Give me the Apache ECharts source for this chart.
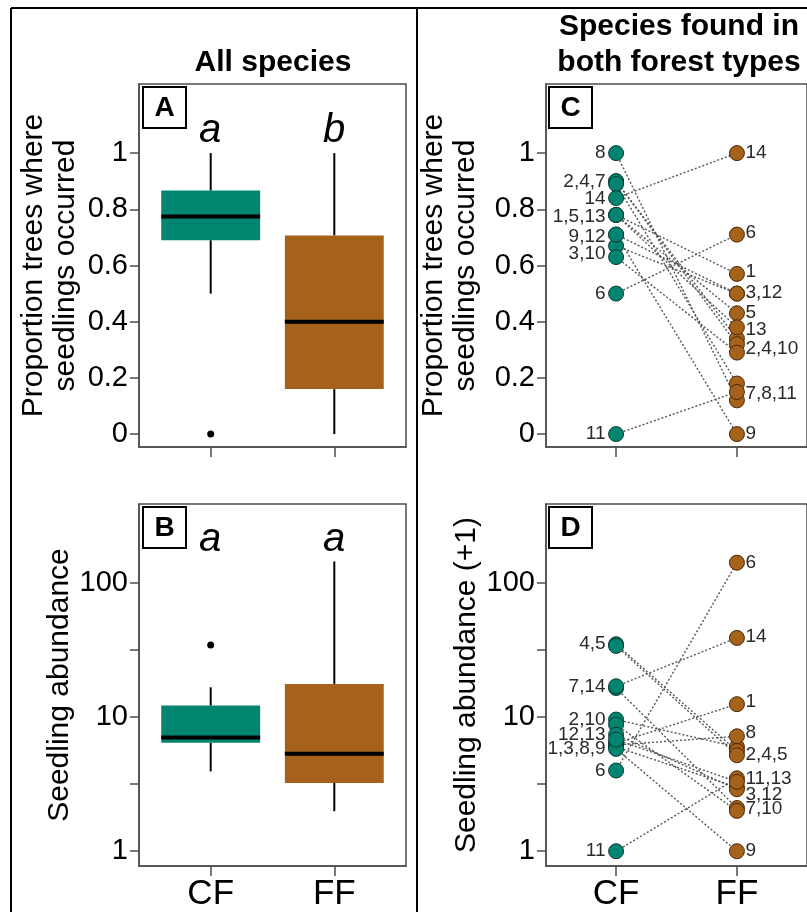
<!DOCTYPE html>
<html>
<head>
<meta charset="utf-8">
<script src="https://cdn.jsdelivr.net/npm/echarts@6/dist/echarts.min.js"></script>
<style>
  html, body { margin: 0; padding: 0; background: #fff; }
  #chart { width: 807px; height: 912px; }
</style>
</head>
<body>
<div id="chart"></div>
<script>
// ---- data ----
const groups = ['CF', 'FF'];
const propTicks = [0, 0.2, 0.4, 0.6, 0.8, 1];
const abundTicks = [1, 3.1623, 10, 31.623, 100];
const abundLabels = [1, 10, 100];

// All species: box statistics [lower whisker, Q1, median, Q3, upper whisker]
const propBoxCF = [0.5, 0.69, 0.774, 0.867, 1.0];
const propBoxFF = [0, 0.16, 0.40, 0.707, 1.0];
const propOutCF = [0];
const propOutFF = [];
const abundBoxCF = [3.94, 6.44, 7.06, 12.2, 16.7];
const abundBoxFF = [1.99, 3.23, 5.33, 17.7, 145];
const abundOutCF = [34.5];
const abundOutFF = [];

// Species found in both forest types (species 1..14)
const speciesIds = [1, 2, 3, 4, 5, 6, 7, 8, 9, 10, 11, 12, 13, 14];
const propCF = [0.78, 0.90, 0.67, 0.90, 0.78, 0.50, 0.89, 1.00, 0.71, 0.63, 0.00, 0.71, 0.78, 0.84];
const propFF = [0.57, 0.34, 0.50, 0.32, 0.43, 0.71, 0.18, 0.12, 0.00, 0.29, 0.15, 0.50, 0.38, 1.00];
const abundCF = [6.4, 9.6, 6.0, 35, 34, 4.0, 16.5, 6.2, 5.8, 8.8, 1.0, 7.4, 6.8, 17];
const abundFF = [12.5, 6.0, 3.0, 5.6, 5.2, 142, 2.1, 7.2, 1.0, 2.0, 3.5, 2.9, 3.3, 39];

// species labels beside the points: [text, value]
const propLabCF = [['8', 1.0], ['2,4,7', 0.898], ['14', 0.836], ['1,5,13', 0.773], ['9,12', 0.704], ['3,10', 0.642], ['6', 0.5], ['11', 0]];
const propLabFF = [['14', 1.0], ['6', 0.717], ['1', 0.576], ['3,12', 0.504], ['5', 0.43], ['13', 0.37], ['2,4,10', 0.304], ['7,8,11', 0.143], ['9', 0]];
const abundLabCF = [['4,5', 35], ['7,14', 16.8], ['2,10', 9.6], ['12,13', 7.4], ['1,3,8,9', 5.8], ['6', 4.0], ['11', 1]];
const abundLabFF = [['6', 142], ['14', 39.5], ['1', 13], ['8', 7.6], ['2,4,5', 5.2], ['11,13', 3.45], ['3,12', 2.64], ['7,10', 2.07], ['9', 1]];

// ---- styling ----
const FONT = "'Liberation Sans', Arial, sans-serif";
const GREEN = '#018571';
const BROWN = '#A6611A';
const FRAME = '#4d4d4d';
const boxColors = [GREEN, BROWN];

const grids = [
  { left: 139, top: 84, width: 267, height: 363 },   // A
  { left: 139, top: 504, width: 267, height: 363 },  // B
  { left: 546, top: 84, width: 267, height: 363 },   // C
  { left: 546, top: 504, width: 267, height: 363 }   // D
].map(g => Object.assign(g, { show: true, borderColor: FRAME, borderWidth: 1.5, backgroundColor: 'transparent' }));

function xAxisFor(gi, showLabels) {
  return {
    gridIndex: gi, type: 'value', min: 0.42, max: 2.58,
    axisLine: { show: true, onZero: false, lineStyle: { color: FRAME, width: 1.5 } },
    splitLine: { show: false },
    axisTick: { show: true, customValues: [1, 2], length: 10, lineStyle: { color: FRAME, width: 1.5 } },
    axisLabel: {
      show: showLabels, customValues: [1, 2], margin: 11,
      formatter: v => groups[Math.round(v) - 1],
      fontSize: 35, color: '#000', fontFamily: FONT
    }
  };
}

function propAxis(gi, gap) {
  return {
    gridIndex: gi, type: 'value', min: -0.046, max: 1.246,
    axisLine: { show: true, onZero: false, lineStyle: { color: FRAME, width: 1.5 } },
    splitLine: { show: false },
    axisTick: { show: true, customValues: propTicks, length: 9, lineStyle: { color: FRAME, width: 1.5 } },
    axisLabel: {
      customValues: propTicks, margin: 11,
      formatter: v => String(+(+v).toFixed(1)),
      fontSize: 29, color: '#000', fontFamily: FONT
    },
    name: 'Proportion trees where\nseedlings occurred',
    nameLocation: 'middle', nameRotate: 90, nameGap: gap,
    nameTextStyle: { fontSize: 30, lineHeight: 32, color: '#000', fontFamily: FONT }
  };
}

function abundAxis(gi, gap, name) {
  return {
    gridIndex: gi, type: 'log', logBase: 10, min: 0.776, max: 389,
    axisLine: { show: true, onZero: false, lineStyle: { color: FRAME, width: 1.5 } },
    splitLine: { show: false },
    axisTick: { show: true, customValues: abundTicks, length: 9, lineStyle: { color: FRAME, width: 1.5 } },
    axisLabel: {
      customValues: abundLabels, margin: 11,
      formatter: v => String(Math.round(v)),
      fontSize: 29, color: '#000', fontFamily: FONT
    },
    name: name, nameLocation: 'middle', nameRotate: 90, nameGap: gap,
    nameTextStyle: { fontSize: 30, lineHeight: 32, color: '#000', fontFamily: FONT }
  };
}

// box with whiskers, drawn from [x, lo, q1, median, q3, hi]
function renderBox(params, api) {
  const x = api.value(0);
  const lo = api.value(1), q1 = api.value(2), md = api.value(3), q3 = api.value(4), hi = api.value(5);
  const tl = api.coord([x - 0.4, q3]);
  const br = api.coord([x + 0.4, q1]);
  const cx = api.coord([x, md])[0];
  const yMd = api.coord([x, md])[1];
  const yLo = api.coord([x, lo])[1];
  const yHi = api.coord([x, hi])[1];
  return {
    type: 'group',
    children: [
      { type: 'line', shape: { x1: cx, y1: yHi, x2: cx, y2: tl[1] }, style: { stroke: '#000', lineWidth: 2 } },
      { type: 'line', shape: { x1: cx, y1: br[1], x2: cx, y2: yLo }, style: { stroke: '#000', lineWidth: 2 } },
      { type: 'rect', shape: { x: tl[0], y: tl[1], width: br[0] - tl[0], height: br[1] - tl[1] }, style: { fill: boxColors[params.dataIndex] } },
      { type: 'line', shape: { x1: tl[0], y1: yMd, x2: br[0], y2: yMd }, style: { stroke: '#000', lineWidth: 4 } }
    ]
  };
}

// dotted segment joining a species' CF value to its FF value
function renderLink(params, api) {
  const a = api.coord([1, api.value(0)]);
  const b = api.coord([2, api.value(1)]);
  return {
    type: 'line',
    shape: { x1: a[0], y1: a[1], x2: b[0], y2: b[1] },
    style: { stroke: '#555', lineWidth: 1.4, lineDash: [2, 2] }
  };
}

function boxSeries(gi, cf, ff, outCF, outFF) {
  return [
    {
      type: 'custom', xAxisIndex: gi, yAxisIndex: gi, renderItem: renderBox,
      encode: { x: 0, y: [1, 2, 3, 4, 5] },
      data: [[1].concat(cf), [2].concat(ff)], silent: true
    },
    {
      type: 'scatter', xAxisIndex: gi, yAxisIndex: gi, symbol: 'circle', symbolSize: 7,
      itemStyle: { color: '#000', opacity: 1 }, silent: true,
      data: outCF.map(v => [1, v]).concat(outFF.map(v => [2, v]))
    }
  ];
}

function pairedSeries(gi, cf, ff, labCF, labFF) {
  const pt = (color, border) => ({
    type: 'scatter', xAxisIndex: gi, yAxisIndex: gi, symbol: 'circle', symbolSize: 15,
    itemStyle: { color: color, borderColor: border, borderWidth: 1, opacity: 1 }, silent: true
  });
  const lab = (pos, dist) => ({
    type: 'scatter', xAxisIndex: gi, yAxisIndex: gi, symbolSize: 1, silent: true,
    itemStyle: { color: 'rgba(0,0,0,0)', opacity: 1 },
    label: {
      show: true, position: pos, distance: dist,
      formatter: p => p.data[2],
      fontSize: 19, color: '#2a2a2a', fontFamily: FONT
    }
  });
  return [
    {
      type: 'custom', xAxisIndex: gi, yAxisIndex: gi, renderItem: renderLink, silent: true,
      encode: { y: [0, 1] },
      data: speciesIds.map((s, i) => [cf[i], ff[i]])
    },
    Object.assign(pt(GREEN, '#0b3b32'), { data: cf.map(v => [1, v]) }),
    Object.assign(pt(BROWN, '#4a2a08'), { data: ff.map(v => [2, v]) }),
    Object.assign(lab('left', 10), { data: labCF.map(d => [1, d[1], d[0]]) }),
    Object.assign(lab('right', 8), { data: labFF.map(d => [2, d[1], d[0]]) })
  ];
}

function letterBox(x, y, letter) {
  return {
    type: 'group', x: x, y: y,
    children: [
      { type: 'rect', shape: { x: 0, y: 0, width: 43, height: 41 }, style: { fill: '#fff', stroke: '#000', lineWidth: 2 } },
      { type: 'text', x: 21.5, y: 21, style: { text: letter, fontSize: 28, fontWeight: 'bold', fontFamily: FONT, fill: '#000', align: 'center', verticalAlign: 'middle' } }
    ]
  };
}

function sigLetter(x, y, t) {
  return { type: 'text', x: x, y: y, style: { text: t, fontSize: 40, fontStyle: 'italic', fontFamily: FONT, fill: '#000', align: 'center', verticalAlign: 'middle' } };
}

function title(x, y, t) {
  return { type: 'text', x: x, y: y, style: { text: t, fontSize: 30, fontWeight: 'bold', fontFamily: FONT, fill: '#000', align: 'center', verticalAlign: 'middle' } };
}

const chart = echarts.init(document.getElementById('chart'), null, { renderer: 'canvas' });
chart.setOption({
  animation: false,
  backgroundColor: '#fff',
  grid: grids,
  xAxis: [xAxisFor(0, false), xAxisFor(1, true), xAxisFor(2, false), xAxisFor(3, true)],
  yAxis: [
    propAxis(0, 57),
    abundAxis(1, 59, 'Seedling abundance'),
    propAxis(2, 64),
    abundAxis(3, 61, 'Seedling abundance (+1)')
  ],
  series: [].concat(
    boxSeries(0, propBoxCF, propBoxFF, propOutCF, propOutFF),
    boxSeries(1, abundBoxCF, abundBoxFF, abundOutCF, abundOutFF),
    pairedSeries(2, propCF, propFF, propLabCF, propLabFF),
    pairedSeries(3, abundCF, abundFF, abundLabCF, abundLabFF)
  ),
  graphic: [
    { type: 'line', shape: { x1: 11, y1: 8, x2: 807, y2: 8 }, style: { stroke: '#000', lineWidth: 2 } },
    { type: 'line', shape: { x1: 11, y1: 8, x2: 11, y2: 912 }, style: { stroke: '#000', lineWidth: 2 } },
    { type: 'line', shape: { x1: 417, y1: 8, x2: 417, y2: 912 }, style: { stroke: '#000', lineWidth: 2 } },
    title(273, 63, 'All species'),
    title(679, 27, 'Species found in'),
    title(679, 63, 'both forest types'),
    letterBox(143, 87, 'A'),
    letterBox(143, 507, 'B'),
    letterBox(549, 87, 'C'),
    letterBox(549, 507, 'D'),
    sigLetter(210, 131, 'a'),
    sigLetter(334, 131, 'b'),
    sigLetter(210, 540, 'a'),
    sigLetter(334, 540, 'a')
  ]
});
</script>
</body>
</html>
